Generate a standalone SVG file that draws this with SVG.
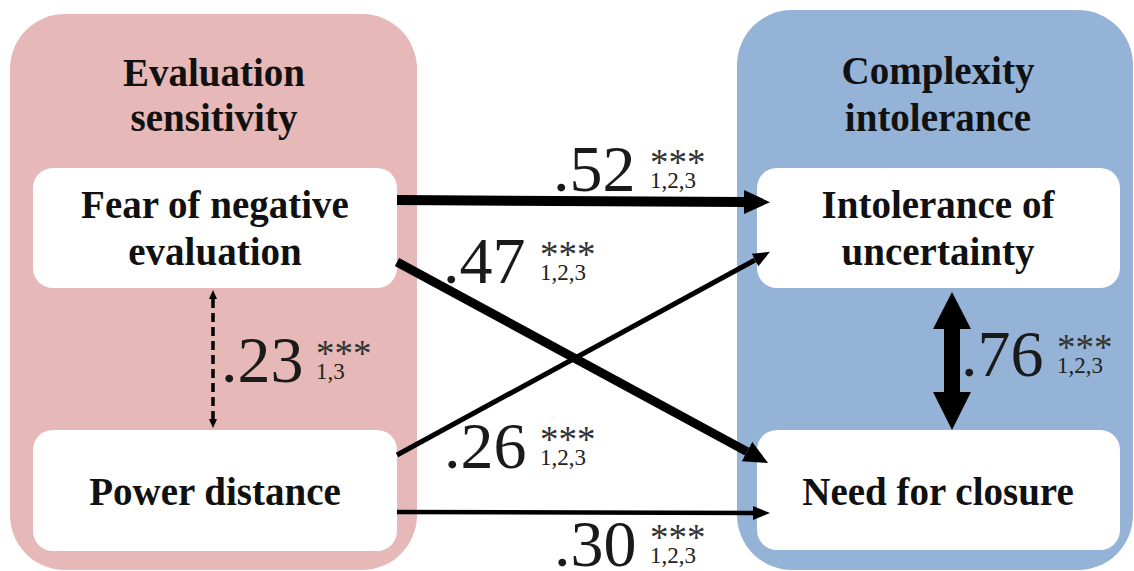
<svg xmlns="http://www.w3.org/2000/svg" width="1134" height="571" viewBox="0 0 1134 571">
<style>
.title{font-family:"Liberation Serif","Times New Roman",serif;font-weight:bold;font-size:39px;fill:#111;text-anchor:middle}
.num{font-family:"Liberation Serif","Times New Roman",serif;font-size:66px;fill:#1a1a1a}
.ast{font-family:"Liberation Serif","Times New Roman",serif;font-size:37px;fill:#333}
.sub{font-family:"Liberation Serif","Times New Roman",serif;font-size:23px;fill:#222}
.box{fill:#fff}
</style>
<defs>
<marker id="hBig" markerUnits="userSpaceOnUse" markerWidth="28" markerHeight="26" refX="0" refY="12" orient="auto"><path d="M0,0 L26,12 L0,24 z" fill="#000"/></marker>
<marker id="hMid" markerUnits="userSpaceOnUse" markerWidth="26" markerHeight="24" refX="0" refY="11" orient="auto"><path d="M0,0 L24,11 L0,22 z" fill="#000"/></marker>
<marker id="hSmall" markerUnits="userSpaceOnUse" markerWidth="20" markerHeight="16" refX="0" refY="7" orient="auto"><path d="M0,0 L17,7 L0,14 z" fill="#000"/></marker>
<marker id="hDash" markerUnits="userSpaceOnUse" markerWidth="12" markerHeight="10" refX="0" refY="4" orient="auto-start-reverse"><path d="M0,0 L9,4 L0,8 z" fill="#000"/></marker>
</defs>

<g id="panel-left">
<rect x="10" y="14" width="407" height="556" rx="55" fill="#E6B8B7"/>
<text class="title" x="214" y="86">Evaluation</text>
<text class="title" x="214" y="131">sensitivity</text>
</g>
<g id="panel-right">
<rect x="737" y="10" width="396" height="560" rx="55" fill="#95B3D7"/>
<text class="title" x="938" y="84">Complexity</text>
<text class="title" x="938" y="131">intolerance</text>
</g>

<g id="node-fne">
<rect class="box" x="33" y="168" width="364" height="120" rx="20"/>
<text class="title" x="215" y="218">Fear of negative</text>
<text class="title" x="215" y="265">evaluation</text>
</g>
<g id="node-pd">
<rect class="box" x="33" y="430" width="364" height="121" rx="20"/>
<text class="title" x="215" y="505">Power distance</text>
</g>
<g id="node-iu">
<rect class="box" x="757" y="168" width="363" height="120" rx="20"/>
<text class="title" x="938" y="218">Intolerance of</text>
<text class="title" x="938" y="265">uncertainty</text>
</g>
<g id="node-nfc">
<rect class="box" x="757" y="430" width="363" height="120" rx="20"/>
<text class="title" x="938" y="505">Need for closure</text>
</g>

<g id="connectors">
<line x1="397" y1="200" x2="744" y2="202" stroke="#000" stroke-width="10" marker-end="url(#hBig)"/>
<line x1="397" y1="262" x2="747" y2="451.6" stroke="#000" stroke-width="9" marker-end="url(#hMid)"/>
<line x1="397" y1="455" x2="755" y2="260" stroke="#000" stroke-width="5" marker-end="url(#hSmall)"/>
<line x1="397" y1="512" x2="753" y2="513" stroke="#000" stroke-width="4.5" marker-end="url(#hSmall)"/>
<line x1="213" y1="299" x2="213" y2="419" stroke="#000" stroke-width="3.5" stroke-dasharray="9,5" marker-start="url(#hDash)" marker-end="url(#hDash)"/>
<path d="M952,292 L971,329 L960,329 L960,392 L971,392 L952,430 L933,392 L944,392 L944,329 L933,329 z" fill="#000"/>
</g>

<g id="labels">
<text class="num" x="553" y="191">.52</text>
<text class="ast" x="650" y="175">***</text>
<text class="sub" x="650" y="188">1,2,3</text>

<text class="num" x="443" y="283">.47</text>
<text class="ast" x="540" y="267">***</text>
<text class="sub" x="540" y="280">1,2,3</text>

<text class="num" x="444" y="468">.26</text>
<text class="ast" x="540" y="452">***</text>
<text class="sub" x="540" y="465">1,2,3</text>

<text class="num" x="554" y="566">.30</text>
<text class="ast" x="650" y="550">***</text>
<text class="sub" x="650" y="563">1,2,3</text>

<text class="num" x="221" y="382">.23</text>
<text class="ast" x="316" y="366">***</text>
<text class="sub" x="316" y="379">1,3</text>

<text class="num" x="961" y="376">.76</text>
<text class="ast" x="1057" y="360">***</text>
<text class="sub" x="1057" y="373">1,2,3</text>
</g>
</svg>
